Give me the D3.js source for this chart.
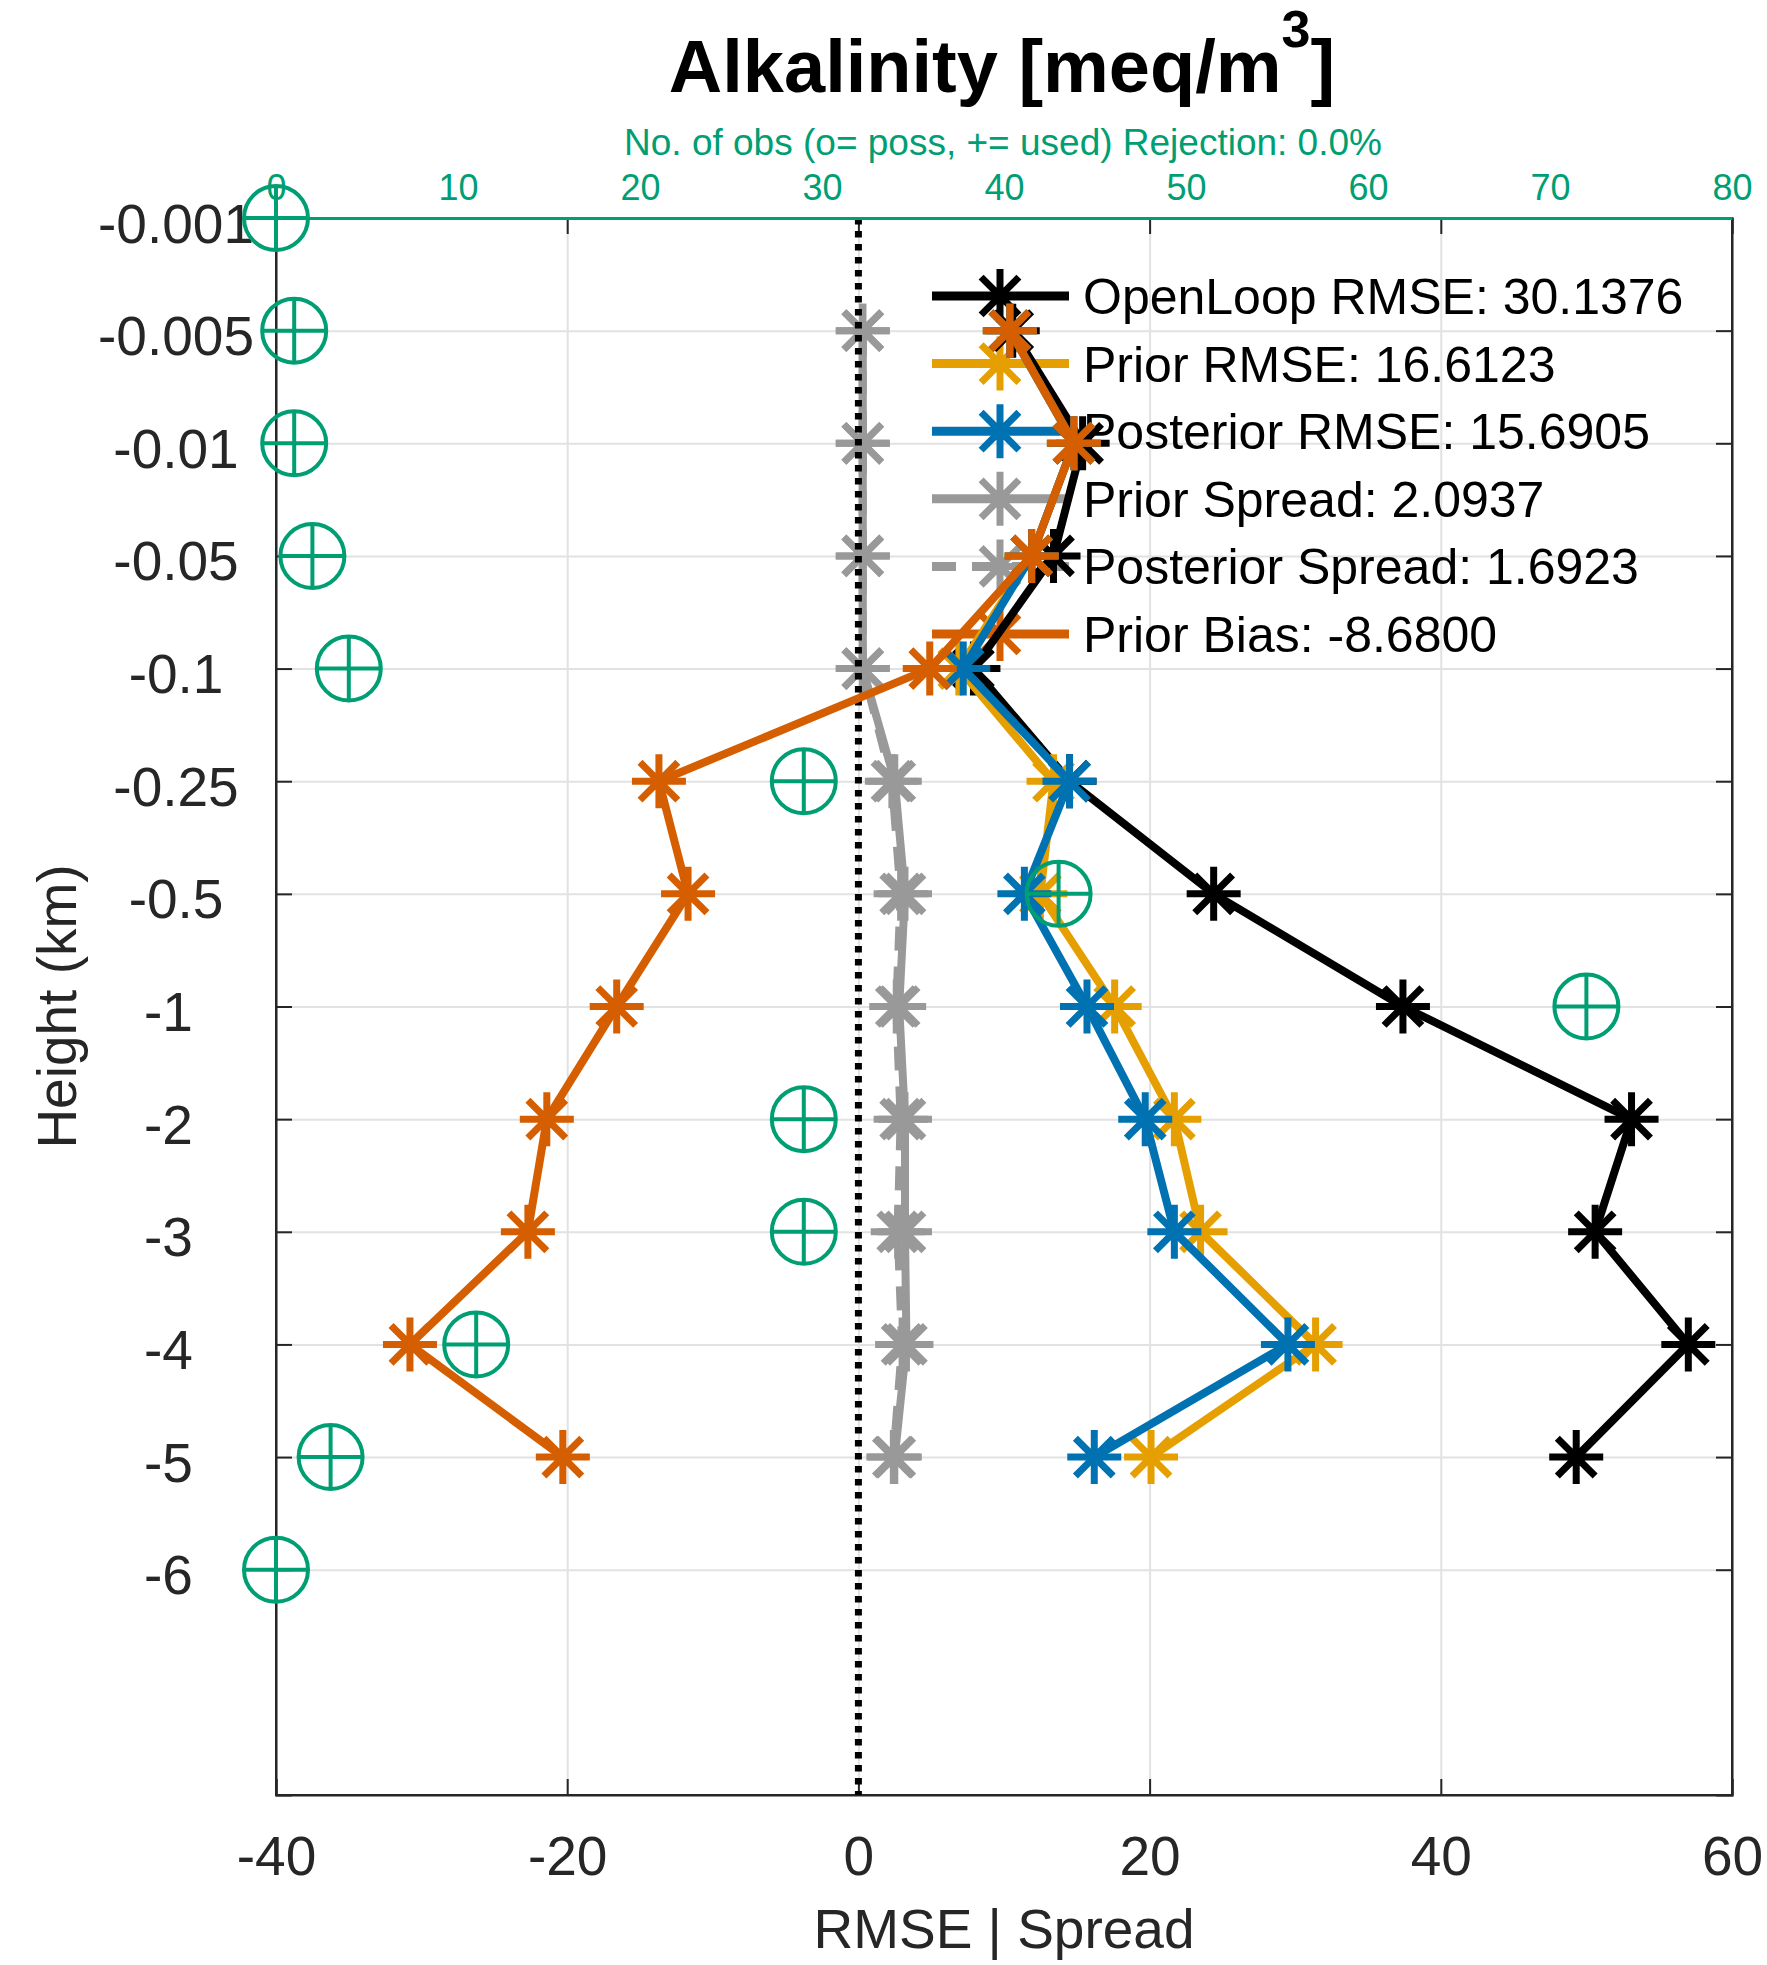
<!DOCTYPE html>
<html lang="en">
<head>
    <meta charset="UTF-8">
    <title>Alkalinity RMSE profile</title>
    <script src="https://d3js.org/d3.v7.min.js"></script>
    <style>
        body { margin: 0; background: #fff; }
        svg { display: block; font-family: "Liberation Sans", Arial, Helvetica, sans-serif; }
    </style>
</head>
<body>
<svg width="1767" height="1965" viewBox="0 0 1767 1965"></svg>
<script>
    // depth levels (km), top to bottom - the y axis is one slot per level
    const levels = ['-0.001', '-0.005', '-0.01', '-0.05', '-0.1', '-0.25', '-0.5', '-1', '-2', '-3', '-4', '-5', '-6']

    // number of obs per level (o = possible, + = used)
    const nPossible = [0, 1, 1, 2, 4, 29, 43, 72, 29, 29, 11, 3, 0]
    const nUsed     = [0, 1, 1, 2, 4, 29, 43, 72, 29, 29, 11, 3, 0]

    // values per level, null where there is nothing
    const openLoopRmse  = [null, 10.6, 15.4, 13.4, 7.9, 14.5, 24.4, 37.4, 53.1, 50.6, 57.0, 49.3, null]
    const priorRmse     = [null, 10.4, 14.8, 11.9, 6.9, 13.4, 12.5, 17.6, 21.7, 23.5, 31.4, 20.1, null]
    const posteriorRmse = [null, 10.4, 14.8, 11.9, 7.2, 14.5, 11.4, 15.7, 19.7, 21.7, 29.5, 16.2, null]
    const priorSpread   = [null, 0.3, 0.3, 0.3, 0.3, 2.5, 3.2, 2.8, 3.2, 3.2, 3.3, 2.5, null]
    const posteriorSpread = [null, 0.3, 0.3, 0.3, 0.3, 2.3, 2.9, 2.6, 2.9, 2.7, 3.0, 2.4, null]
    const priorBias     = [null, 10.4, 14.8, 11.9, 4.9, -13.7, -11.7, -16.6, -21.4, -22.7, -30.8, -20.3, null]

    const legendLabels = ['OpenLoop RMSE: 30.1376', 'Prior RMSE: 16.6123', 'Posterior RMSE: 15.6905',
        'Prior Spread: 2.0937', 'Posterior Spread: 1.6923', 'Prior Bias: -8.6800']

    const xTicks = [-40, -20, 0, 20, 40, 60]
    const obsTicks = [0, 10, 20, 30, 40, 50, 60, 70, 80]

    const series = [
        {values: openLoopRmse, color: '#000000', dash: null},
        {values: priorRmse, color: '#E69F00', dash: null},
        {values: posteriorRmse, color: '#0072B2', dash: null},
        {values: priorSpread, color: '#999999', dash: null},
        {values: posteriorSpread, color: '#999999', dash: '24,16'},
        {values: priorBias, color: '#D55E00', dash: null}
    ]

    let svg = d3.select('svg')
    const pLeft = 276, pRight = 1732, pTop = 218, pBottom = 1795
    const axisColor = '#262626'
    const obsColor = '#009E73'
    const lw = 8      // data line width
    const mw = 7      // marker stroke width

    let x = d3.scaleLinear().domain([-40, 60]).range([pLeft, pRight])
    let xObs = d3.scaleLinear().domain([0, 80]).range([pLeft, pRight])
    let y = d3.scaleLinear().domain([0, 14]).range([pTop, pBottom])   // 13 levels + 2 empty slots

    // grid
    svg.append('g')
        .attr('transform', `translate(0,${pBottom})`)
        .call(d3.axisBottom(x).tickValues(xTicks).tickSize(-(pBottom - pTop)).tickFormat(''))
        .call(g => g.select('.domain').remove())
        .selectAll('line').attr('stroke', '#e2e2e2').attr('stroke-width', 2)
    svg.append('g')
        .attr('transform', `translate(${pLeft},0)`)
        .call(d3.axisLeft(y).tickValues(d3.range(levels.length)).tickSize(-(pRight - pLeft)).tickFormat(''))
        .call(g => g.select('.domain').remove())
        .selectAll('line').attr('stroke', '#e2e2e2').attr('stroke-width', 2)

    // box
    svg.append('rect')
        .attr('x', pLeft).attr('y', pTop)
        .attr('width', pRight - pLeft).attr('height', pBottom - pTop)
        .attr('fill', 'none').attr('stroke', axisColor).attr('stroke-width', 2)

    // axes with inward ticks
    let xAxis = svg.append('g')
        .attr('class', 'ax')
        .attr('transform', `translate(0,${pBottom})`)
        .call(d3.axisBottom(x).tickValues(xTicks).tickSize(-16).tickFormat(d => String(d)))
    xAxis.selectAll('text').attr('y', 80).attr('dy', null)
        .attr('font-size', 55).attr('fill', axisColor)

    svg.append('g')
        .attr('class', 'ax')
        .attr('transform', `translate(0,${pTop})`)
        .call(d3.axisTop(x).tickValues(xTicks).tickSize(-16).tickFormat(''))

    // level labels are padded to 6 chars with trailing blanks, then right aligned
    let yAxis = svg.append('g')
        .attr('class', 'ax')
        .attr('transform', `translate(${pLeft},0)`)
        .call(d3.axisLeft(y).tickValues(d3.range(levels.length))
            .tickFormat(i => levels[i].padEnd(6, ' ')).tickSize(-16))
    yAxis.selectAll('text').attr('x', 254 - pLeft).attr('dy', null).attr('y', 24)
        .attr('text-anchor', 'end').attr('font-size', 55).attr('fill', axisColor)
        .style('white-space', 'pre')

    svg.append('g')
        .attr('class', 'ax')
        .attr('transform', `translate(${pRight},0)`)
        .call(d3.axisRight(y).tickValues(d3.range(levels.length)).tickSize(-16).tickFormat(''))

    svg.selectAll('.ax .domain').attr('stroke', axisColor).attr('stroke-width', 2)
    svg.selectAll('.ax .tick line').attr('stroke', axisColor).attr('stroke-width', 2)

    // labels
    svg.append('text')
        .attr('x', (pLeft + pRight) / 2).attr('y', 1948)
        .attr('text-anchor', 'middle').attr('font-size', 55).attr('fill', axisColor)
        .text('RMSE | Spread')
    svg.append('text')
        .attr('transform', `translate(76,${(pTop + pBottom) / 2}) rotate(-90)`)
        .attr('text-anchor', 'middle').attr('font-size', 55).attr('fill', axisColor)
        .text('Height (km)')

    // title with superscript
    let title = svg.append('text')
        .attr('x', 1002).attr('y', 92)
        .attr('text-anchor', 'middle').attr('font-size', 74).attr('font-weight', 'bold')
    title.append('tspan').text('Alkalinity [meq/m')
    title.append('tspan').attr('font-size', 52).attr('dy', -45).text('3')
    title.append('tspan').attr('dy', 45).text(']')

    svg.append('text')
        .attr('x', 1003).attr('y', 155)
        .attr('text-anchor', 'middle').attr('font-size', 37).attr('fill', obsColor)
        .text('No. of obs (o= poss, += used) Rejection: 0.0%')

    function asterisk(cx, cy, r) {
        let d = r * 0.7
        return `M${cx - r},${cy}H${cx + r}M${cx},${cy - r}V${cy + r}` +
            `M${cx - d},${cy - d}L${cx + d},${cy + d}M${cx - d},${cy + d}L${cx + d},${cy - d}`
    }

    // legend (drawn under the data)
    const rowY = d3.scaleLinear().domain([0, 1]).range([296, 363.6])
    let legend = svg.append('g')
    series.forEach((s, k) => {
        let ly = rowY(k)
        legend.append('line')
            .attr('x1', 932).attr('x2', 1069).attr('y1', ly).attr('y2', ly)
            .attr('stroke', s.color).attr('stroke-width', lw + 1)
            .attr('stroke-dasharray', s.dash)
        legend.append('path')
            .attr('d', asterisk(1000, ly, 27))
            .attr('stroke', s.color).attr('stroke-width', mw).attr('fill', 'none')
        legend.append('text')
            .attr('x', 1083).attr('y', ly + 18)
            .attr('font-size', 50).attr('fill', '#000')
            .text(legendLabels[k])
    })

    // data lines + asterisk markers
    let line = d3.line()
        .defined(d => d.v !== null)
        .x(d => x(d.v))
        .y(d => y(d.i))

    series.forEach((s, k) => {
        let pts = s.values.map((v, i) => ({v: v, i: i}))
        let g = svg.append('g')
        g.append('path')
            .datum(pts)
            .attr('d', line)
            .attr('fill', 'none')
            .attr('stroke', s.color).attr('stroke-width', lw)
            .attr('stroke-dasharray', s.dash)
            .attr('stroke-linejoin', 'round')
        g.selectAll('.mark')
            .data(pts.filter(d => d.v !== null))
            .enter()
            .append('path')
            .attr('d', d => asterisk(x(d.v), y(d.i), 27))
            .attr('stroke', s.color).attr('stroke-width', mw).attr('fill', 'none')

        // dotted zero line goes over the spreads, under the bias
        if (k === 4) {
            svg.append('line')
                .attr('x1', x(0)).attr('x2', x(0)).attr('y1', pTop).attr('y2', pBottom)
                .attr('stroke', '#000').attr('stroke-width', 7)
                .attr('stroke-dasharray', '6.5,6.5')
        }
    })

    // obs count axis on top
    let obsAxis = svg.append('g')
        .attr('transform', `translate(0,${pTop})`)
        .call(d3.axisTop(xObs).tickValues(obsTicks).tickSize(0))
    obsAxis.select('.domain').attr('stroke', obsColor).attr('stroke-width', 3)
    obsAxis.selectAll('text').attr('y', -18).attr('dy', null)
        .attr('font-size', 36).attr('fill', obsColor)

    // obs markers: o = possible, + = used
    let obs = svg.append('g').attr('stroke', obsColor).attr('stroke-width', 4).attr('fill', 'none')
    obs.selectAll('circle')
        .data(nPossible)
        .enter()
        .append('circle')
        .attr('cx', d => xObs(d))
        .attr('cy', (d, i) => y(i))
        .attr('r', 32)
    obs.selectAll('.plus')
        .data(nUsed)
        .enter()
        .append('path')
        .attr('d', (d, i) => `M${xObs(d) - 32},${y(i)}H${xObs(d) + 32}M${xObs(d)},${y(i) - 32}V${y(i) + 32}`)
</script>
</body>
</html>
